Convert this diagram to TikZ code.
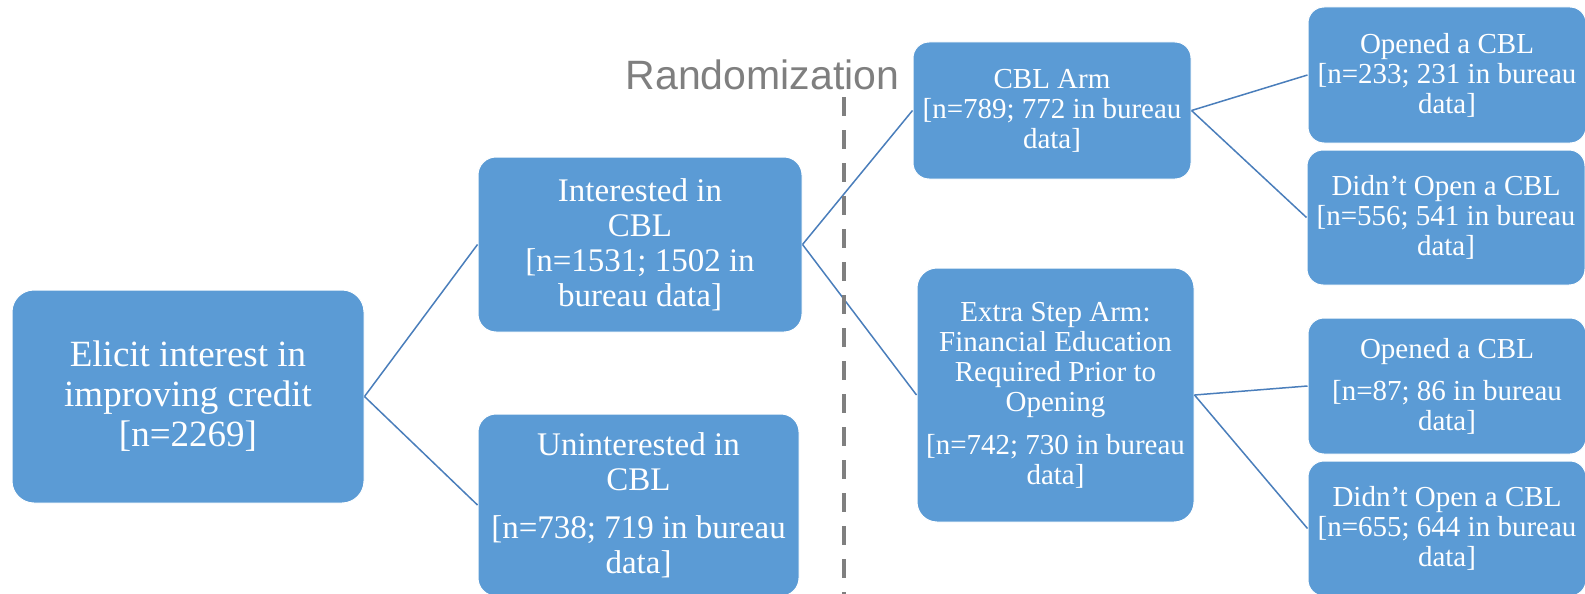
\documentclass[tikz,border=0pt]{standalone}
\usepackage{fontspec}
\setmainfont{Liberation Serif}
\newfontfamily\randfont{Liberation Sans}
\definecolor{boxblue}{HTML}{5B9BD5}
\definecolor{linkblue}{HTML}{4A7EBB}
\definecolor{randgray}{HTML}{7F7F7F}

\begin{document}
\begin{tikzpicture}[x=1pt,y=-1pt,
    box/.style={rectangle,rounded corners=16pt,fill=boxblue,draw=white,line width=1pt,
      text=white,align=center,inner sep=0pt,font=\fontsize{29}{30}\selectfont},
    midbox/.style={box,font=\fontsize{33}{35}\selectfont,rounded corners=18pt},
    leafbox/.style={box,minimum width=278pt,minimum height=136pt},
    link/.style={draw=linkblue,line width=1.5pt}]
  \useasboundingbox (0,0) rectangle (1585,594);
  \node [box,minimum width=352pt,minimum height=213pt,rounded corners=22pt,
    font=\fontsize{37}{40}\selectfont] (elicit) at (188,396.5)
    {Elicit interest in\\improving credit\\{}[n=2269]};
  \node [midbox,minimum width=324pt,minimum height=175pt] (interested) at (640,244.5)
    {Interested in\\CBL\\{}[n=1531; 1502 in\\bureau data]};
  \node [midbox,minimum width=321pt,minimum height=182pt] (uninterested) at (638.5,505)
    {Uninterested in\\CBL\\[13pt]{}[n=738; 719 in bureau\\data]};
  \node [box,minimum width=278pt,minimum height=137pt] (cblarm) at (1052,110.5)
    {CBL Arm\\{}[n=789; 772 in bureau\\data]};
  \node [box,minimum width=277pt,minimum height=254pt,rounded corners=20pt] (extra) at (1055.5,395)
    {Extra Step Arm:\\Financial Education\\Required Prior to\\Opening\\[13pt]{}[n=742; 730 in bureau\\data]};
  \node [leafbox] (opened1) at (1447,75)
    {Opened a CBL\\{}[n=233; 231 in bureau\\data]};
  \node [leafbox,minimum height=135pt] (didnt1) at (1446,217.5)
    {Didn’t Open a CBL\\{}[n=556; 541 in bureau\\data]};
  \node [leafbox] (opened2) at (1447,386)
    {Opened a CBL\\[12pt]{}[n=87; 86 in bureau\\data]};
  \node [leafbox,minimum height=135pt] (didnt2) at (1447,528.5)
    {Didn’t Open a CBL\\{}[n=655; 644 in bureau\\data]};
  \draw [link] (elicit.east) -- (interested.west);
  \draw [link] (elicit.east) -- (uninterested.west);
  \draw [link] (interested.east) -- (cblarm.west);
  \draw [link] (interested.east) -- (extra.west);
  \draw [link] (cblarm.east) -- (opened1.west);
  \draw [link] (cblarm.east) -- (didnt1.west);
  \draw [link] (extra.east) -- (opened2.west);
  \draw [link] (extra.east) -- (didnt2.west);
  \node [anchor=base,text=randgray,inner sep=0pt,font=\randfont\fontsize{41}{48}\selectfont] (rand) at (762.5,89) {Randomization};
  \coordinate (randtop) at (844,97);
  \coordinate (randbot) at (844,600);
  \draw [randgray,line width=4.5pt,dash pattern=on 19pt off 14pt] (randtop) -- (randbot);
\end{tikzpicture}
\end{document}
